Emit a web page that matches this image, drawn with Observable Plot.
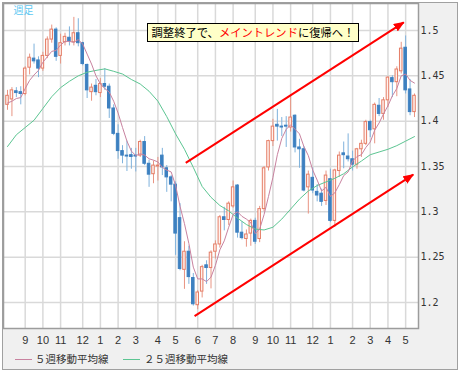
<!DOCTYPE html>
<html><head><meta charset="utf-8">
<script src="https://cdn.jsdelivr.net/npm/d3@7"></script>
<script src="https://cdn.jsdelivr.net/npm/@observablehq/plot@0.6"></script>
<style>
body{margin:0;background:#fff;}
#wrap{position:relative;width:460px;height:373px;overflow:hidden;background:#fff;}
#bg{position:absolute;left:2px;top:2px;width:456px;height:368px;box-sizing:border-box;border:1px solid #a0a0a0;background:#f0f0f0;}
#chart{position:absolute;left:0;top:0;}
#note{position:absolute;left:147px;top:23px;width:212px;height:19px;box-sizing:border-box;border:1px solid #000;background:#ffffc8;font:11.3px "Noto Sans CJK JP",sans-serif;line-height:17px;text-align:center;white-space:nowrap;color:#000;}
#note span{color:#ff0000;}
.lg-line{position:absolute;height:1px;width:17px;top:359px;}
.lg-text{position:absolute;top:350px;font:10.5px "Noto Sans CJK JP",sans-serif;line-height:17px;color:#333;white-space:nowrap;}
</style></head>
<body>
<div id="wrap">
  <div id="bg"></div>
  <div id="chart"></div>
  <div id="note"></div>
  <div class="lg-line" id="l1"></div><div class="lg-text" id="t1"></div>
  <div class="lg-line" id="l2"></div><div class="lg-text" id="t2"></div>
</div>
<script>
// ---- data ----
const weeks = ["2009-08-10","2009-08-17","2009-08-24","2009-08-31","2009-09-07","2009-09-14","2009-09-21","2009-09-28","2009-10-05","2009-10-12","2009-10-19","2009-10-26","2009-11-02","2009-11-09","2009-11-16","2009-11-23","2009-11-30","2009-12-07","2009-12-14","2009-12-21","2009-12-28",
"2010-01-04","2010-01-11","2010-01-18","2010-01-25","2010-02-01","2010-02-08","2010-02-15","2010-02-22","2010-03-01","2010-03-08","2010-03-15","2010-03-22","2010-03-29","2010-04-05","2010-04-12","2010-04-19","2010-04-26","2010-05-03","2010-05-10","2010-05-17","2010-05-24","2010-05-31","2010-06-07","2010-06-14","2010-06-21","2010-06-28","2010-07-05","2010-07-12","2010-07-19","2010-07-26","2010-08-02","2010-08-09","2010-08-16","2010-08-23","2010-08-30","2010-09-06","2010-09-13","2010-09-20","2010-09-27","2010-10-04","2010-10-11","2010-10-18","2010-10-25","2010-11-01","2010-11-08","2010-11-15","2010-11-22","2010-11-29","2010-12-06","2010-12-13","2010-12-20","2010-12-27",
"2011-01-03","2011-01-10","2011-01-17","2011-01-24","2011-01-31","2011-02-07","2011-02-14","2011-02-21","2011-02-28","2011-03-07","2011-03-14","2011-03-21","2011-03-28","2011-04-04","2011-04-11","2011-04-18","2011-04-25","2011-05-02","2011-05-09","2011-05-16"];

const open = [1.418,1.424,1.433,1.432,1.430,1.459,1.469,1.467,1.458,1.472,1.490,1.501,1.472,1.487,1.492,1.487,1.497,1.486,1.462,1.432,1.439,
1.431,1.441,1.438,1.414,1.386,1.367,1.362,1.3625,1.362,1.362,1.377,1.353,1.3415,1.350,1.362,1.348,1.338,1.330,1.293,1.236,1.256,1.227,1.197,1.212,1.241,1.238,1.256,1.264,1.294,1.291,1.306,1.329,1.277,1.270,1.276,1.290,1.270,1.303,1.349,1.378,1.396,1.394,1.395,1.393,1.406,1.371,1.369,1.327,1.3375,1.322,1.320,1.312,
1.336,1.290,1.345,1.3645,1.361,1.358,1.352,1.369,1.375,1.399,1.391,1.417,1.408,1.423,1.4475,1.443,1.455,1.481,1.435,1.410];

const high = [1.434,1.437,1.437,1.438,1.460,1.474,1.485,1.471,1.476,1.493,1.506,1.503,1.496,1.497,1.504,1.5145,1.513,1.487,1.463,1.441,1.446,
1.447,1.458,1.441,1.418,1.396,1.373,1.378,1.370,1.370,1.379,1.383,1.357,1.356,1.360,1.370,1.351,1.340,1.333,1.309,1.267,1.262,1.232,1.213,1.241,1.246,1.257,1.268,1.296,1.305,1.311,1.334,1.330,1.289,1.280,1.292,1.293,1.306,1.350,1.379,1.402,1.413,1.404,1.405,1.428,1.407,1.380,1.372,1.345,1.3485,1.330,1.325,1.345,
1.347,1.347,1.366,1.377,1.386,1.367,1.370,1.379,1.401,1.401,1.420,1.425,1.426,1.449,1.450,1.460,1.487,1.494,1.446,1.430];

const low = [1.412,1.405,1.426,1.418,1.428,1.451,1.463,1.448,1.455,1.469,1.486,1.466,1.463,1.483,1.483,1.483,1.482,1.461,1.425,1.422,1.428,
1.426,1.434,1.403,1.384,1.358,1.353,1.3445,1.347,1.344,1.360,1.351,1.327,1.331,1.334,1.340,1.3215,1.311,1.252,1.235,1.2145,1.220,1.196,1.192,1.205,1.220,1.215,1.248,1.260,1.279,1.285,1.304,1.271,1.269,1.261,1.262,1.264,1.266,1.300,1.345,1.372,1.378,1.383,1.371,1.388,1.365,1.348,1.322,1.2975,1.320,1.311,1.306,1.307,
1.288,1.283,1.338,1.3475,1.355,1.345,1.347,1.360,1.373,1.382,1.375,1.405,1.401,1.415,1.426,1.427,1.452,1.430,1.406,1.404];

const close = [1.428,1.434,1.431,1.430,1.458,1.470,1.466,1.458,1.472,1.490,1.501,1.471,1.486,1.493,1.488,1.497,1.486,1.463,1.434,1.437,1.432,
1.441,1.438,1.414,1.386,1.367,1.362,1.361,1.3605,1.361,1.377,1.353,1.341,1.351,1.351,1.349,1.338,1.330,1.276,1.237,1.256,1.228,1.198,1.211,1.239,1.238,1.255,1.264,1.294,1.291,1.309,1.327,1.277,1.271,1.275,1.290,1.267,1.303,1.348,1.378,1.394,1.394,1.393,1.394,1.404,1.371,1.369,1.3235,1.341,1.3235,1.318,1.311,1.340,
1.290,1.3456,1.362,1.3625,1.358,1.352,1.369,1.375,1.399,1.390,1.418,1.408,1.423,1.448,1.443,1.457,1.480,1.434,1.410,1.428];

// 5-week moving average
const ma5 = [1.420,1.422,1.425,1.426,1.436,1.445,1.451,1.456,1.465,1.471,1.477,1.478,1.484,1.488,1.488,1.487,1.490,1.485,1.474,1.463,1.450,
1.441,1.436,1.432,1.422,1.409,1.393,1.378,1.367,1.362,1.364,1.3625,1.3585,1.357,1.355,1.349,1.346,1.344,1.329,1.306,1.287,1.265,1.239,1.226,1.226,1.223,1.228,1.241,1.258,1.268,1.283,1.297,1.300,1.295,1.292,1.288,1.276,1.281,1.297,1.317,1.338,1.363,1.381,1.391,1.396,1.391,1.386,1.372,1.362,1.346,1.335,1.323,1.327,
1.317,1.321,1.330,1.340,1.344,1.356,1.361,1.363,1.371,1.377,1.390,1.398,1.408,1.417,1.428,1.436,1.450,1.452,1.445,1.442];

// 25-week moving average (at every other week)
const ma25Week = [0,2,4,6,8,10,12,14,16,18,20,22,24,26,28,30,32,34,36,38,40,42,44,46,48,50,52,54,56,58,60,62,64,66,68,70,72,74,76,78,80,82,84,86,88,90,92];
const ma25 = [1.372,1.385,1.393,1.401,1.414,1.427,1.437,1.444,1.450,1.454,1.456,1.4577,1.455,1.452,1.446,1.441,1.433,1.422,1.405,1.386,1.369,1.349,1.328,1.316,1.307,1.301,1.293,1.286,1.281,1.280,1.283,1.292,1.303,1.314,1.323,1.329,1.333,1.337,1.342,1.3495,1.356,1.363,1.366,1.369,1.373,1.378,1.383];

// trend-channel arrows
const trendStart = ["2010-05-19","2010-06-02"];
const trendStartPrice = [1.354, 1.185];
const trendEnd = ["2011-04-29","2011-05-14"];
const trendEndPrice = [1.509, 1.341];

// ticks
const tickDates = ["2009-09-07","2009-10-05","2009-11-02","2009-12-07","2010-01-04","2010-02-01","2010-03-01","2010-04-05","2010-05-03","2010-06-07","2010-07-05","2010-08-02","2010-09-06","2010-10-04","2010-11-01","2010-12-06","2011-01-03","2011-02-07","2011-03-07","2011-04-04","2011-05-02"];
const monthLabels = ["9","10","11","12","1","2","3","4","5","6","7","8","9","10","11","12","1","2","3","4","5"];
const yTicks = [1.2,1.25,1.3,1.35,1.4,1.45,1.5];

const timeframeLabel = "週足";
const notePre = "調整終了で、", noteRed = "メイントレンド", notePost = "に復帰へ！";
const legendLabels = ["５週移動平均線", "２５週移動平均線"];

// ---- colours ----
const upStroke = "#e57d66", upFill = "#fff2ee", upWick = "#e89482";
const downFill = "#3d80c0", downWick = "#7fb2dc";
const ma5Color = "#c8829f", ma25Color = "#5cc592";
const trendColor = "#ff0000";

// ---- build ----
const rows = weeks.map((w, i) => ({date: new Date(w), open: open[i], high: high[i], low: low[i], close: close[i], ma5: ma5[i]}));
const ups = rows.filter(d => d.close >= d.open);
const downs = rows.filter(d => d.close < d.open);
const ma25Rows = ma25Week.map((w, i) => ({date: new Date(weeks[w]), v: ma25[i]}));
const trends = trendStart.map((s, i) => ({x1: new Date(s), y1: trendStartPrice[i], x2: new Date(trendEnd[i]), y2: trendEndPrice[i]}));
const ticks = tickDates.map(d => new Date(d));
const labelByTime = new Map(ticks.map((d, i) => [+d, monthLabels[i]]));

const DAY = 864e5, halfBody = 2.0 * DAY;
const bx1 = d => new Date(+d.date - halfBody), bx2 = d => new Date(+d.date + halfBody);

const plot = Plot.plot({
  width: 460, height: 348,
  marginLeft: 3, marginRight: 42, marginTop: 3, marginBottom: 20,
  style: {background: "transparent", overflow: "visible"},
  x: {type: "utc", domain: [new Date("2009-08-03T16:00Z"), new Date("2011-05-22T08:00Z")]},
  y: {domain: [1.1713, 1.5298]},
  marks: [
    Plot.frame({fill: "white", stroke: "white"}),
    Plot.ruleX(ticks, {stroke: "#d9d9d9", strokeWidth: 1.5}),
    Plot.ruleY(yTicks, {stroke: "#d9d9d9", strokeWidth: 1.5}),
    Plot.ruleX(ups, {x: "date", y1: "low", y2: "high", stroke: upWick}),
    Plot.ruleX(downs, {x: "date", y1: "low", y2: "high", stroke: downWick}),
    Plot.rect(ups, {x1: bx1, x2: bx2, y1: "open", y2: "close", fill: upFill, stroke: upStroke, strokeWidth: 1}),
    Plot.rect(downs, {x1: bx1, x2: bx2, y1: "open", y2: "close", fill: downFill, stroke: downFill, strokeWidth: 1}),
    Plot.line(ma25Rows, {x: "date", y: "v", stroke: ma25Color, strokeWidth: 1}),
    Plot.line(rows, {x: "date", y: "ma5", stroke: ma5Color, strokeWidth: 1}),
    Plot.link(trends, {x1: "x1", y1: "y1", x2: "x2", y2: "y2", stroke: trendColor, strokeWidth: 2, className: "trendlink"}),
    Plot.text([timeframeLabel], {frameAnchor: "top-left", dx: 10, dy: 3, lineAnchor: "top", textAnchor: "start", fill: "#5cc8f2", fontSize: 10, fontFamily: "Noto Sans CJK JP"}),
    Plot.frame({stroke: "#9c9c9c", strokeWidth: 1.5}),
    Plot.axisX(ticks, {tickSize: 0, tickPadding: 8, tickFormat: d => labelByTime.get(+d), fontSize: 11, fontFamily: "Liberation Sans, Arial, sans-serif", fill: "#333"}),
    Plot.axisY(yTicks, {anchor: "right", tickSize: 0, tickPadding: 2, tickFormat: d3.format(".2~f"), fontSize: 10, fontFamily: "DejaVu Sans Mono, monospace", fill: "#333"})
  ]
});

document.getElementById("chart").appendChild(plot);

// filled arrowheads on the trend lines
const svg = plot.tagName.toLowerCase() === "svg" ? plot : plot.querySelector("svg");
const ns = "http://www.w3.org/2000/svg";
const defs = document.createElementNS(ns, "defs");
const marker = document.createElementNS(ns, "marker");
marker.setAttribute("id", "ah");
marker.setAttribute("viewBox", "0 0 10 8");
marker.setAttribute("refX", "9");
marker.setAttribute("refY", "4");
marker.setAttribute("markerWidth", "11");
marker.setAttribute("markerHeight", "9");
marker.setAttribute("markerUnits", "userSpaceOnUse");
marker.setAttribute("orient", "auto");
const head = document.createElementNS(ns, "path");
head.setAttribute("d", "M0,0L10,4L0,8Z");
head.setAttribute("fill", trendColor);
marker.appendChild(head);
defs.appendChild(marker);
svg.insertBefore(defs, svg.firstChild);
svg.querySelectorAll("g").forEach(g => {
  if (g.getAttribute("stroke") === trendColor || (g.getAttribute("class") || "").includes("trendlink")) {
    g.querySelectorAll("path, line").forEach(p => p.setAttribute("marker-end", "url(#ah)"));
  }
});

// annotation
const note = document.getElementById("note");
note.append(notePre);
const red = document.createElement("span"); red.textContent = noteRed; note.append(red);
note.append(notePost);

// legend
const l1 = document.getElementById("l1"), l2 = document.getElementById("l2");
l1.style.left = "15px"; l1.style.background = ma5Color;
l2.style.left = "123px"; l2.style.background = ma25Color;
const t1 = document.getElementById("t1"), t2 = document.getElementById("t2");
t1.style.left = "35px"; t1.textContent = legendLabels[0];
t2.style.left = "144px"; t2.textContent = legendLabels[1];
</script>
</body></html>
